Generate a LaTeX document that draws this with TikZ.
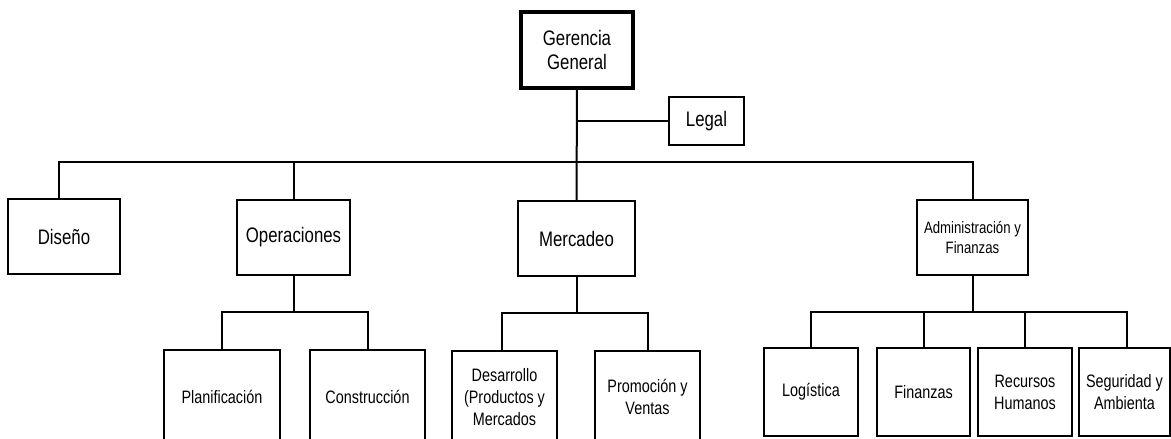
\documentclass[tikz,border=0pt]{standalone}
\usepackage{fontspec}
\setmainfont{Liberation Sans}[FakeStretch=0.8]
\usetikzlibrary{positioning}

\begin{document}
\begin{tikzpicture}[
  x=1pt, y=-1pt,
  box/.style    ={draw=black, line width=1.2pt, align=center, inner sep=2pt},
  big/.style    ={box, font=\fontsize{21}{24.5}\selectfont},
  small/.style  ={box, font=\fontsize{18}{22}\selectfont},
  tiny/.style   ={box, font=\fontsize{16.5}{19.5}\selectfont},
  head/.style   ={big, line width=3.4pt},
  link/.style   ={line width=2pt, draw=black},
]
\useasboundingbox (0,0) rectangle (1171,439);

% top of the chart
\node[head, minimum width=112pt, minimum height=76pt] (gg) at (577,50)
      {Gerencia\\General};
\node[big, minimum width=75pt, minimum height=48pt] (legal) at (706.5,121)
      {Legal};

% first level
\node[big, minimum width=112pt, minimum height=75pt] (dis)   at (64,236.5)  {Diseño};
\node[big, minimum width=113pt, minimum height=75pt] (ope)   at (293.5,237.5) {Operaciones};
\node[big, minimum width=117pt, minimum height=75pt] (mer)   at (576.5,238.5) {Mercadeo};
\node[tiny, minimum width=111pt, minimum height=75pt] (adm)  at (972.5,237.5)
      {Administración y\\Finanzas};

% second level (the lower boxes run past the page edge)
\node[small, minimum width=116pt, minimum height=94pt] (pla) at (222,397)   {Planificación};
\node[small, minimum width=115pt, minimum height=94pt] (con) at (367.5,397) {Construcción};
\node[small, minimum width=105pt, minimum height=92pt] (des) at (504.5,397)
      {Desarrollo\\(Productos y\\Mercados};
\node[small, minimum width=105pt, minimum height=92pt] (pro) at (647.5,397)
      {Promoción y\\Ventas};
\node[small, minimum width=94pt, minimum height=88pt] (log) at (811,392)    {Logística};
\node[small, minimum width=93pt, minimum height=88pt] (fin) at (923.5,392)  {Finanzas};
\node[small, minimum width=94pt, minimum height=88pt] (rec) at (1025,392)   {Recursos\\Humanos};
\node[small, minimum width=91pt, minimum height=88pt] (seg) at (1124.5,392) {Seguridad y\\Ambienta};

% bus lines
\coordinate (bus)   at (577,162);
\coordinate (opbus) at (293.5,312);
\coordinate (mebus) at (576.5,313);
\coordinate (adbus) at (972.5,312);

\draw[link] (gg) -- (mer);
\draw[link] (gg.south |- legal.west) -- (legal.west);
\draw[link] ([xshift=-5pt]dis.north) |- (bus) -| (adm.north);
\draw[link] (bus) -| (ope.north);

\draw[link] (ope) -- (opbus);
\draw[link] (pla.north) |- (opbus) -| (con.north);

\draw[link] (mer) -- (mebus);
\draw[link] ([xshift=-2.5pt]des.north) |- (mebus) -| (pro.north);

\draw[link] (adm) -- (adbus);
\draw[link] (log.north) |- (adbus) -| ([xshift=2.5pt]seg.north);
\draw[link] (fin.north) -- (fin.north |- adbus);
\draw[link] (rec.north) -- (rec.north |- adbus);

\end{tikzpicture}
\end{document}
